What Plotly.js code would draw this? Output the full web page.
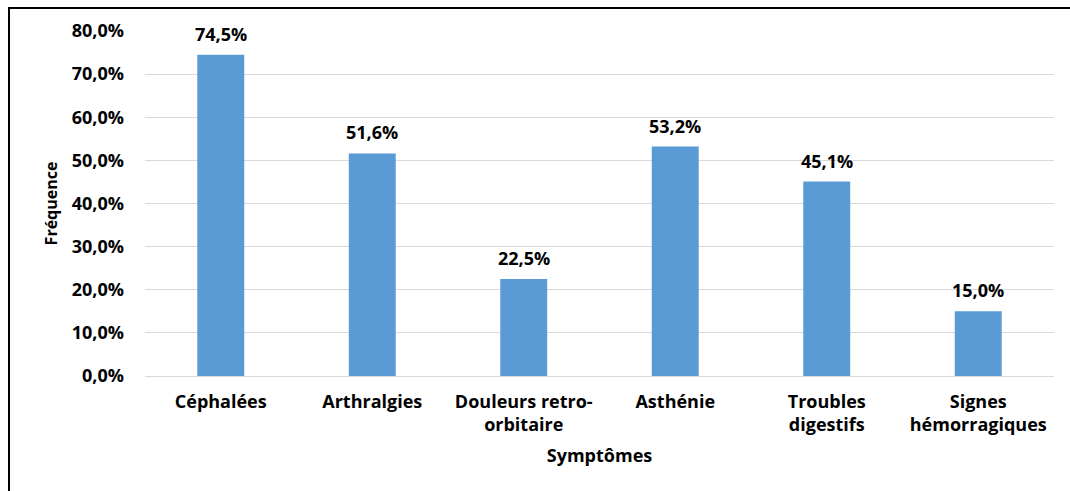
<!DOCTYPE html>
<html>
<head>
<meta charset="utf-8">
<script src="https://cdn.plot.ly/plotly-3.0.1.min.js"></script>
<style>
  html, body { margin: 0; padding: 0; background: #fff; }
  #wrap { position: relative; width: 1070px; height: 491px; overflow: hidden; }
  #chart { position: absolute; left: 0; top: 0; width: 1070px; height: 491px; }
  #frame { position: absolute; left: 8px; top: 7px; width: 1070px; height: 500px;
           border-left: 2.5px solid #000; border-top: 2.5px solid #000; pointer-events: none; }
</style>
</head>
<body>
<div id="wrap">
  <div id="chart"></div>
  <div id="frame"></div>
</div>
<script>
const categories = ["Céphalées", "Arthralgies", "Douleurs retro-<br>orbitaire", "Asthénie", "Troubles<br>digestifs", "Signes<br>hémorragiques"];
const frequencies = [74.5, 51.6, 22.5, 53.2, 45.1, 15.0];
const yTicks = [0, 10, 20, 30, 40, 50, 60, 70, 80];

const FONT = "'Open Sans', 'Liberation Sans', sans-serif";
const fmt = v => v.toFixed(1).replace('.', ',') + '%';

const trace = {
  type: 'bar',
  x: categories,
  y: frequencies,
  marker: { color: '#5B9BD5' },
  hoverinfo: 'none'
};

const annotations = categories.map((c, i) => ({
  x: c, y: frequencies[i], xref: 'x', yref: 'y',
  text: '<b>' + fmt(frequencies[i]) + '</b>',
  showarrow: false, yanchor: 'bottom', yshift: 7,
  font: { family: FONT, size: 18, color: '#000' }
}));

const layout = {
  width: 1070, height: 491,
  margin: { l: 145, r: 16, t: 31, b: 115 },
  paper_bgcolor: 'rgba(0,0,0,0)',
  plot_bgcolor: '#fff',
  bargap: 0.69,
  showlegend: false,
  font: { family: FONT, color: '#000' },
  xaxis: {
    type: 'category',
    tickfont: { family: FONT, size: 18, color: '#000', weight: 'bold' },
    ticks: '', showline: true, linecolor: '#D9D9D9', linewidth: 1,
    showgrid: false,
    ticklabelstandoff: 9,
    title: { text: '<b>Symptômes</b>', font: { family: FONT, size: 18, color: '#000' }, standoff: 14 }
  },
  yaxis: {
    range: [0, 80],
    tickvals: yTicks,
    ticktext: yTicks.map(fmt),
    tickfont: { family: FONT, size: 18, color: '#000', weight: 'bold' },
    ticks: '', showline: false, zeroline: false,
    showgrid: true, gridcolor: '#D9D9D9', gridwidth: 1,
    ticklabelstandoff: 20,
    title: { text: '<b>Fréquence</b>', font: { family: FONT, size: 16, color: '#000' }, standoff: 10 }
  },
  annotations: annotations
};

Plotly.newPlot('chart', [trace], layout, { displayModeBar: false, staticPlot: true });
</script>
</body>
</html>
